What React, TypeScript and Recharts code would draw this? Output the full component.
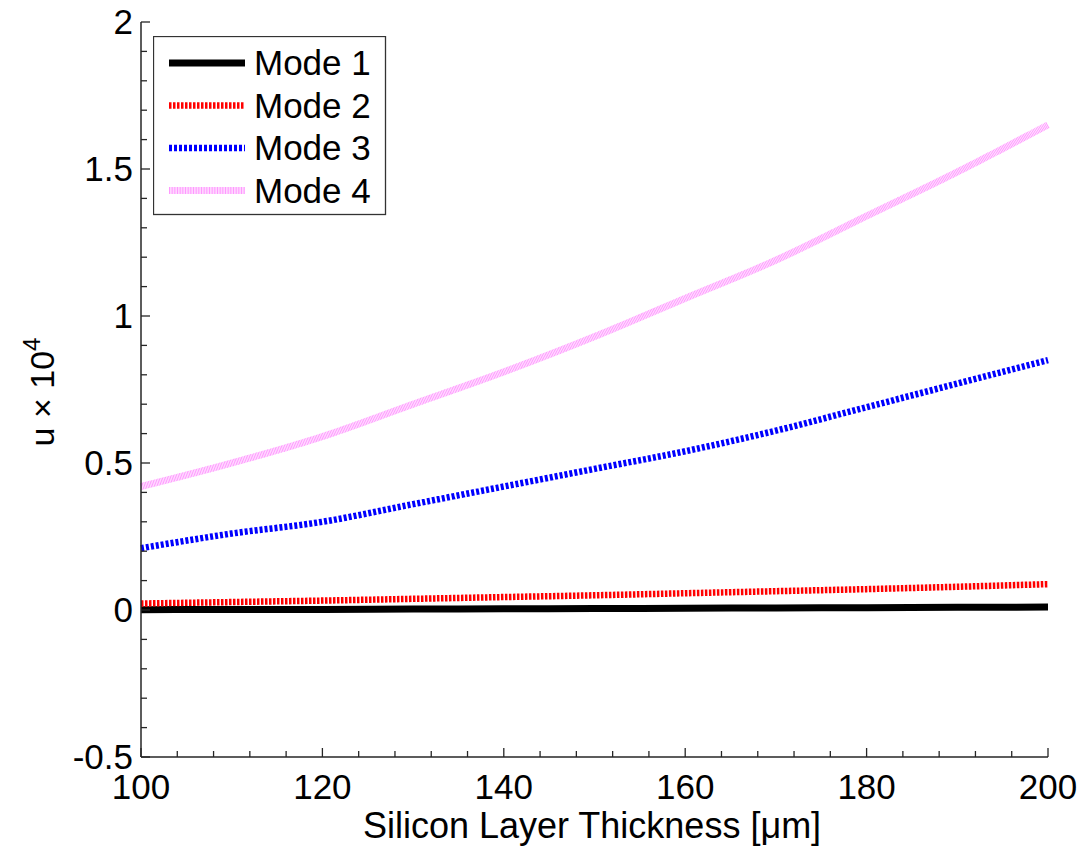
import { LineChart, Line, XAxis, YAxis } from "recharts";

const thickness = [100, 110, 120, 130, 140, 150, 160, 170, 180, 190, 200];
const mode1 = [0.001, 0.002, 0.002, 0.003, 0.004, 0.005, 0.006, 0.007, 0.008, 0.009, 0.01];
const mode2 = [0.022, 0.027, 0.032, 0.038, 0.044, 0.05, 0.057, 0.064, 0.071, 0.079, 0.088];
const mode3 = [0.21, 0.26, 0.3, 0.36, 0.42, 0.48, 0.54, 0.61, 0.69, 0.77, 0.85];
const mode4 = [0.42, 0.5, 0.59, 0.7, 0.81, 0.93, 1.06, 1.19, 1.34, 1.49, 1.65];

const xTicks = [
  100, 104, 108, 112, 116, 120, 124, 128, 132, 136, 140, 144, 148, 152, 156, 160, 164, 168, 172,
  176, 180, 184, 188, 192, 196, 200,
];
const xLabels = [100, 120, 140, 160, 180, 200];
const yTicks = [
  -0.5, -0.4, -0.3, -0.2, -0.1, 0, 0.1, 0.2, 0.3, 0.4, 0.5, 0.6, 0.7, 0.8, 0.9, 1, 1.1, 1.2, 1.3,
  1.4, 1.5, 1.6, 1.7, 1.8, 1.9, 2,
];
const yLabels = [-0.5, 0, 0.5, 1, 1.5, 2];

const series = [
  { key: "m1", name: "Mode 1", color: "#000000", width: 7, dash: undefined as string | undefined },
  { key: "m2", name: "Mode 2", color: "#ff0000", width: 6.5, dash: "2.5 1.5" },
  { key: "m3", name: "Mode 3", color: "#0000ff", width: 6.5, dash: "3 2" },
  { key: "m4", name: "Mode 4", color: "#ff99ff", width: 7, dash: "1 0.6" },
];

const data = thickness.map((t, i) => ({
  t,
  m1: mode1[i],
  m2: mode2[i],
  m3: mode3[i],
  m4: mode4[i],
}));

const FONT = "Arial, 'Liberation Sans', sans-serif";
const AXIS = "#262626";

function XTick(props: any) {
  const { x, y, payload } = props;
  const major = xLabels.includes(payload.value);
  return (
    <g>
      <line x1={x} y1={y} x2={x} y2={y - (major ? 9 : 6)} stroke={AXIS} strokeWidth={1.3} />
      {major && (
        <text x={x} y={y + 42} textAnchor="middle" fontSize={35} fontFamily={FONT} fill="#000">
          {payload.value}
        </text>
      )}
    </g>
  );
}

function YTick(props: any) {
  const { x, y, payload } = props;
  const v = Math.round(payload.value * 10) / 10;
  const major = yLabels.includes(v);
  return (
    <g>
      <line x1={x} y1={y} x2={x + (major ? 9 : 6)} y2={y} stroke={AXIS} strokeWidth={1.3} />
      {major && (
        <text x={x - 8} y={y + 12} textAnchor="end" fontSize={35} fontFamily={FONT} fill="#000">
          {v}
        </text>
      )}
    </g>
  );
}

function LegendBox() {
  return (
    <svg width={234} height={180} style={{ display: "block" }}>
      <rect x={0.5} y={0.5} width={232} height={178} fill="#fff" stroke="#333" strokeWidth={1.3} />
      {series.map((s, i) => {
        const cy = 27 + i * 42.5;
        return (
          <g key={s.key}>
            <line
              x1={16}
              y1={cy}
              x2={92}
              y2={cy}
              stroke={s.color}
              strokeWidth={s.width}
              strokeDasharray={s.dash}
            />
            <text x={101} y={cy + 12} fontSize={35} fontFamily={FONT} fill="#000">
              {s.name}
            </text>
          </g>
        );
      })}
    </svg>
  );
}

export default function App() {
  return (
    <div style={{ position: "absolute", left: 0, top: 0, width: 1083, height: 848, background: "#fff" }}>
      <LineChart
        width={1083}
        height={848}
        data={data}
        margin={{ top: 22, right: 35, bottom: 90, left: 140 }}
      >
        <XAxis
          dataKey="t"
          type="number"
          domain={[100, 200]}
          ticks={xTicks}
          interval={0}
          height={1}
          tickSize={0}
          tickMargin={0}
          tickLine={false}
          tick={<XTick />}
          axisLine={{ stroke: AXIS, strokeWidth: 1.5 }}
          label={{
            content: () => (
              <text x={592} y={838} textAnchor="middle" fontSize={36} fontFamily={FONT} fill="#000">
                Silicon Layer Thickness [μm]
              </text>
            ),
          }}
        />
        <YAxis
          type="number"
          domain={[-0.5, 2]}
          ticks={yTicks}
          interval={0}
          width={1}
          tickSize={0}
          tickMargin={0}
          tickLine={false}
          tick={<YTick />}
          allowDataOverflow
          axisLine={{ stroke: AXIS, strokeWidth: 1.5 }}
          label={{
            content: () => (
              <text
                x={54}
                y={392}
                transform="rotate(-90 54 392)"
                textAnchor="middle"
                fontSize={34}
                fontFamily={FONT}
                fill="#000"
              >
                u × 10
                <tspan fontSize={24} dy={-14}>
                  4
                </tspan>
              </text>
            ),
          }}
        />
        {series.map((s) => (
          <Line
            key={s.key}
            dataKey={s.key}
            name={s.name}
            type="monotone"
            stroke={s.color}
            strokeWidth={s.width}
            strokeDasharray={s.dash}
            dot={false}
            activeDot={false}
            isAnimationActive={false}
          />
        ))}
      </LineChart>
      <div style={{ position: "absolute", left: 153, top: 36 }}>
        <LegendBox />
      </div>
    </div>
  );
}
